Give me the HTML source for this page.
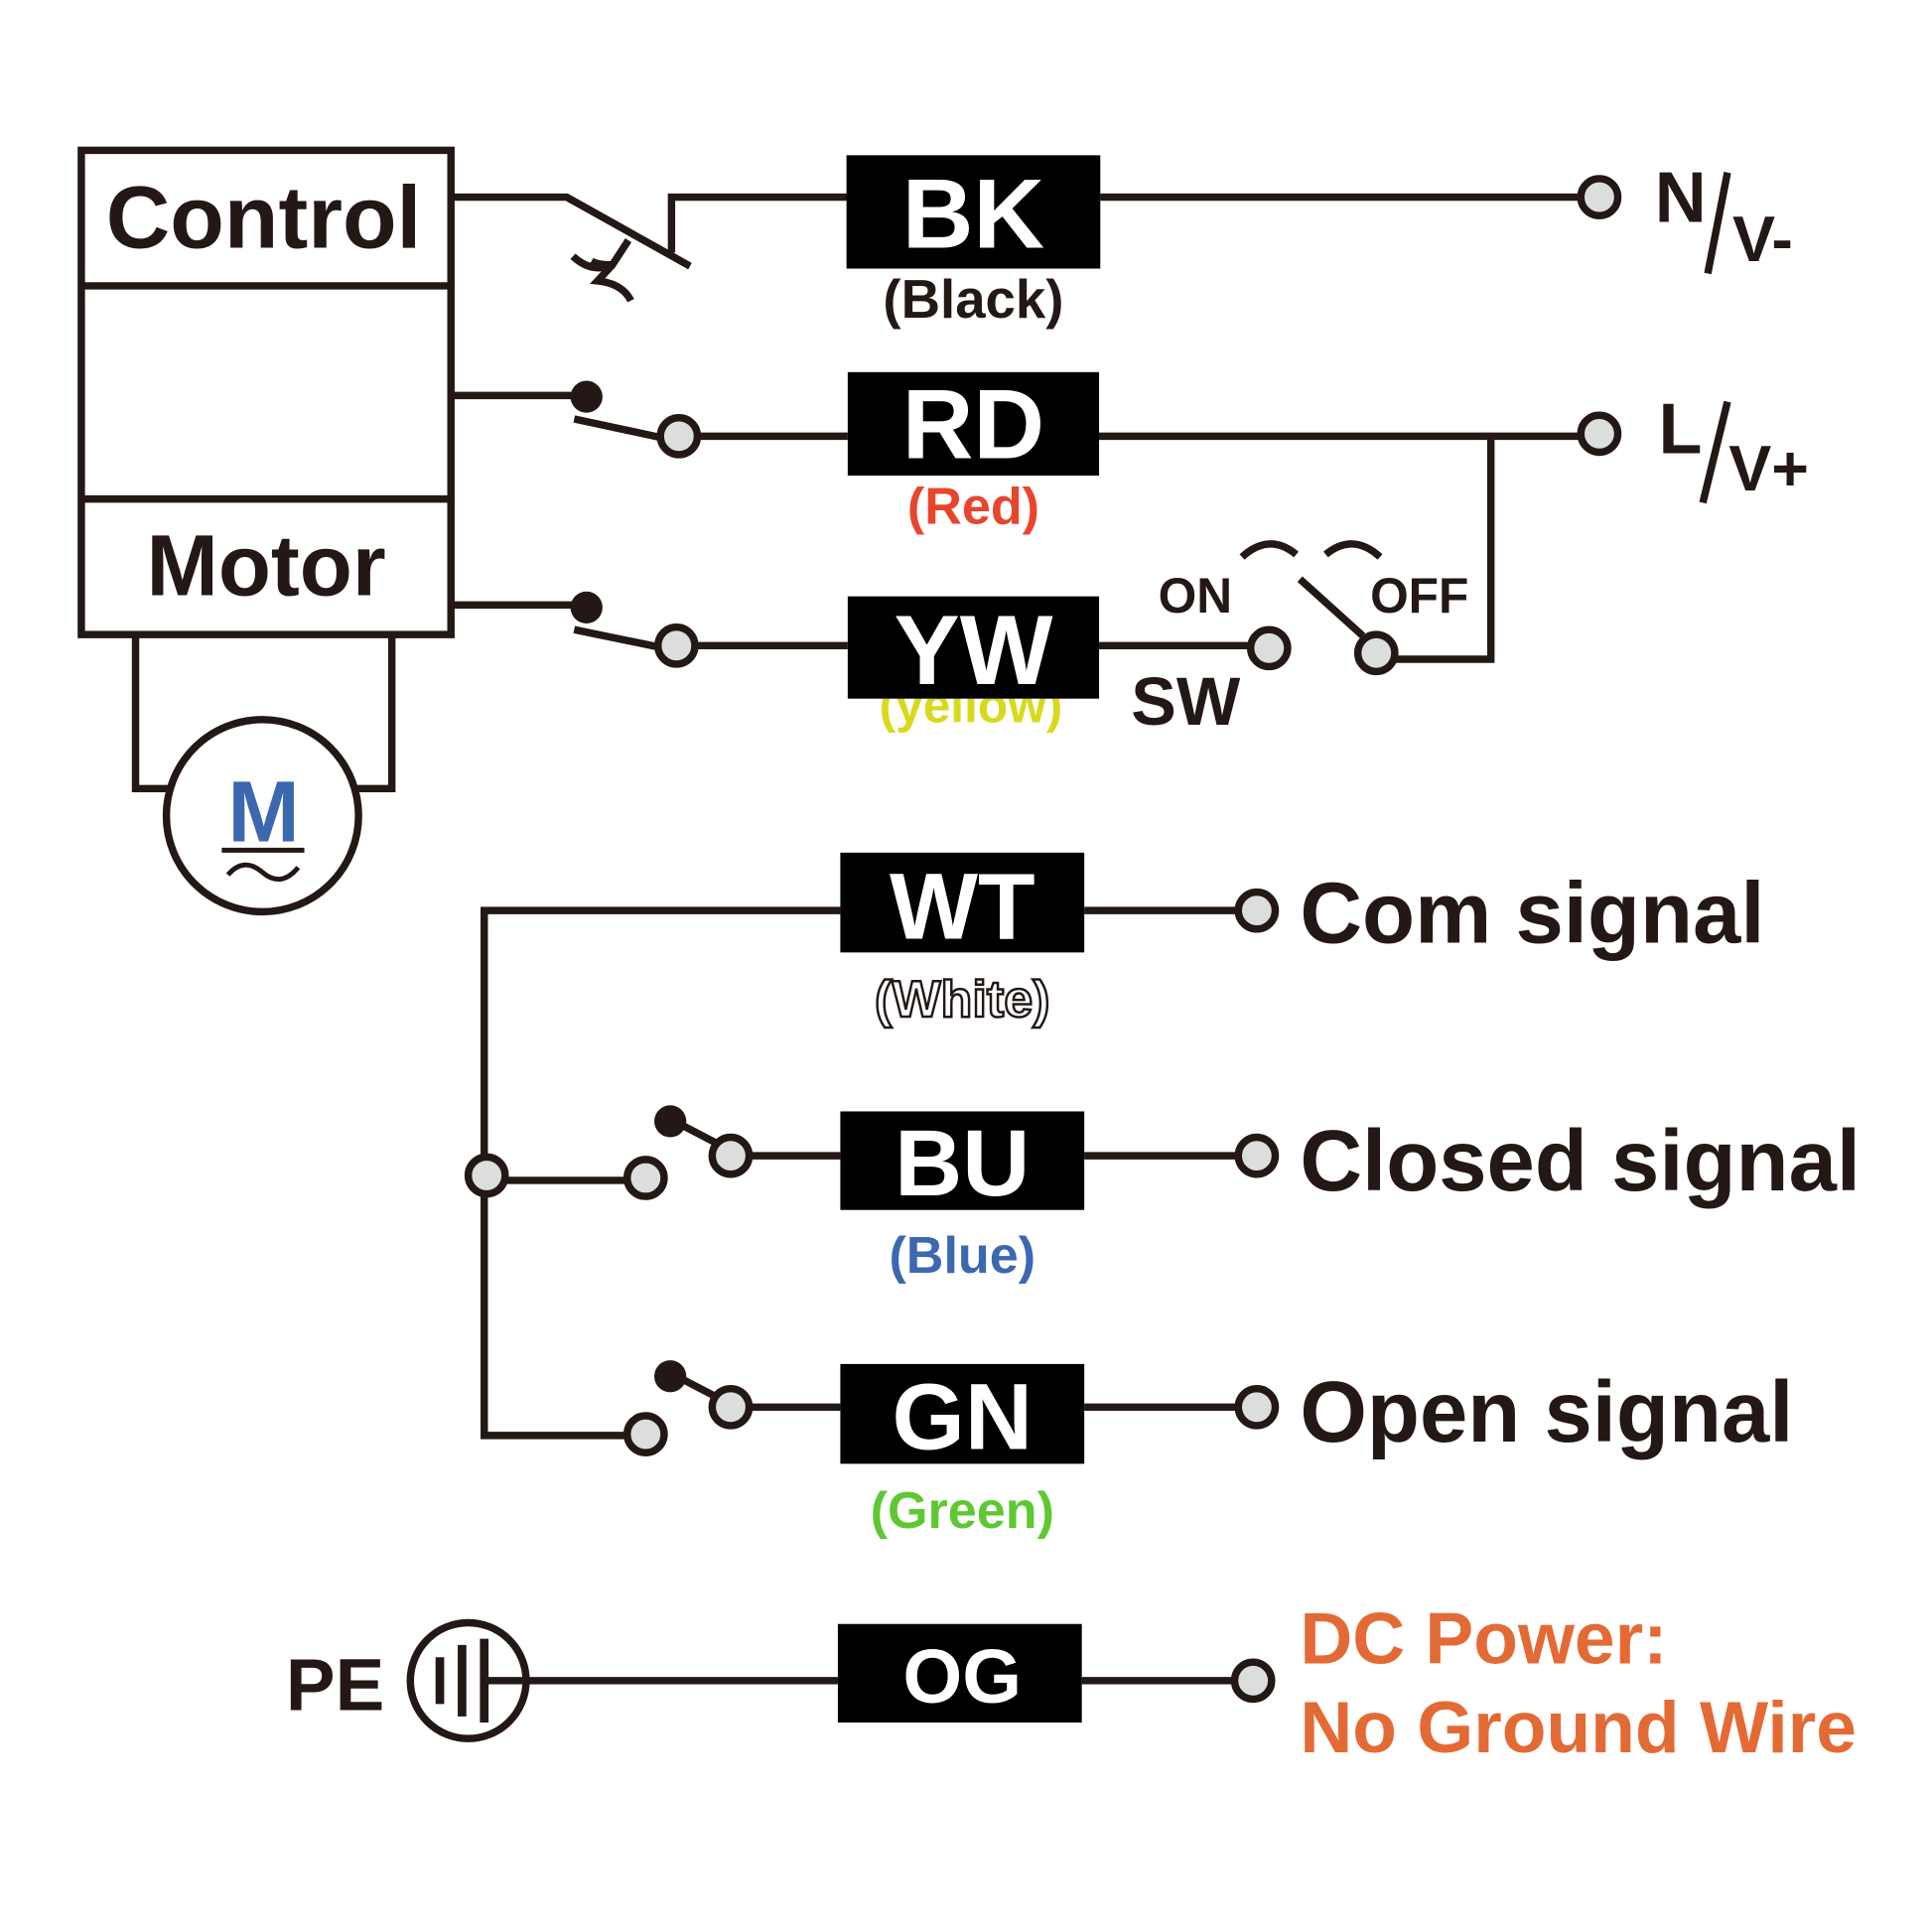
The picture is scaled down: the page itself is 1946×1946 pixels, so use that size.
<!DOCTYPE html>
<html><head><meta charset="utf-8"><style>html,body{margin:0;padding:0;background:#fff}svg{display:block}text{font-family:"Liberation Sans",Arial,sans-serif;font-weight:bold}</style></head>
<body>
<svg width="1946" height="1946" viewBox="0 0 1568 1568" xmlns="http://www.w3.org/2000/svg">
<rect width="1568" height="1568" fill="#fff"/>
<g stroke="#231815" stroke-width="6" fill="none">
<rect x="66" y="122" width="300" height="393"/>
<line x1="66" y1="232" x2="366" y2="232"/>
<line x1="66" y1="405" x2="366" y2="405"/>
<polyline points="110,515 110,640 138,640"/>
<polyline points="318,515 318,640 290,640"/>
<circle cx="213" cy="662" r="78"/>
<polyline points="366,160 460,160 560,216"/>
<polyline points="545,205 545,160 688,160"/>
<path d="M510,195 L497,215 Q485,215 480,212 M497,215 L485,228 Q505,230 512,244"/>
<path d="M465,208 Q480,222 497,215" />
<line x1="893" y1="160" x2="1284" y2="160"/>
<line x1="366" y1="321" x2="476" y2="321"/>
<line x1="466" y1="340" x2="536" y2="355"/>
<line x1="566" y1="354" x2="688" y2="354"/>
<line x1="892" y1="354" x2="1284" y2="354"/>
<polyline points="1210,354 1210,535 1132,535"/>
<line x1="366" y1="491" x2="476" y2="491"/>
<line x1="466" y1="511" x2="534" y2="525"/>
<line x1="564" y1="524" x2="688" y2="524"/>
<line x1="892" y1="524" x2="1015" y2="524"/>
<line x1="1055" y1="470" x2="1106" y2="516"/>
<path d="M1008,452 Q1030,432 1052,450"/>
<path d="M1076,450 Q1098,432 1120,452"/>
<polyline points="682,739 393,739 393,1165 510,1165"/>
<line x1="410" y1="958" x2="510" y2="958"/>
<line x1="880" y1="739" x2="1005" y2="739"/>
<line x1="555" y1="914" x2="580" y2="927"/>
<line x1="608" y1="938" x2="682" y2="938"/>
<line x1="880" y1="938" x2="1005" y2="938"/>
<line x1="555" y1="1120" x2="580" y2="1133"/>
<line x1="608" y1="1142" x2="682" y2="1142"/>
<line x1="880" y1="1142" x2="1005" y2="1142"/>
<circle cx="380" cy="1364" r="47"/>
<line x1="357" y1="1345" x2="357" y2="1383" stroke-width="7"/>
<line x1="375" y1="1335" x2="375" y2="1393" stroke-width="7"/>
<line x1="393" y1="1330" x2="393" y2="1398" stroke-width="7"/>
<line x1="393" y1="1364" x2="680" y2="1364"/>
<line x1="878" y1="1364" x2="1003" y2="1364"/>
<line x1="1402" y1="140" x2="1386" y2="222" stroke-width="6"/>
<line x1="1402" y1="326" x2="1382" y2="408" stroke-width="6"/>
</g>
<g fill="#231815"><circle cx="476" cy="322" r="13"/><circle cx="476" cy="493" r="13"/><circle cx="544" cy="910" r="13"/><circle cx="544" cy="1117" r="13"/></g>
<g fill="#dcdddd" stroke="#231815" stroke-width="6">
<circle cx="1298" cy="160" r="15"/><circle cx="551" cy="354" r="15"/><circle cx="1298" cy="352" r="15"/>
<circle cx="549" cy="524" r="15"/><circle cx="1030" cy="526" r="15"/><circle cx="1117" cy="530" r="15"/>
<circle cx="1020" cy="739" r="15"/><circle cx="395" cy="954" r="15"/><circle cx="524" cy="956" r="15"/><circle cx="593" cy="938" r="15"/><circle cx="1020" cy="938" r="15"/>
<circle cx="524" cy="1164" r="15"/><circle cx="593" cy="1142" r="15"/><circle cx="1020" cy="1142" r="15"/><circle cx="1017" cy="1364" r="15"/>
</g>
<text x="788" y="586" font-size="40" fill="#d9d91c" text-anchor="middle">(yellow)</text>
<g fill="#000">
<rect x="687" y="126" width="206" height="92"/><rect x="688" y="302" width="204" height="84"/><rect x="688" y="484" width="204" height="83"/>
<rect x="682" y="692" width="198" height="81"/><rect x="682" y="902" width="198" height="80"/><rect x="682" y="1107" width="198" height="81"/><rect x="680" y="1318" width="198" height="80"/>
</g>
<g fill="#fff" text-anchor="middle">
<text x="790" y="201" font-size="80">BK</text>
<text x="790" y="372" font-size="80">RD</text>
<text x="790" y="555" font-size="80">YW</text>
<text x="781" y="762" font-size="76">WT</text>
<text x="781" y="970" font-size="76">BU</text>
<text x="781" y="1176" font-size="76">GN</text>
<text x="781" y="1382" font-size="62">OG</text>
</g>
<g fill="#231815">
<text x="214" y="201" font-size="72" text-anchor="middle">Control</text>
<text x="216" y="483" font-size="70" text-anchor="middle">Motor</text>
<text x="790" y="258" font-size="44" text-anchor="middle">(Black)</text>
<text x="1343" y="180" font-size="58">N</text><text x="1406" y="212" font-size="52">V-</text>
<text x="1346" y="368" font-size="58">L</text><text x="1403" y="398" font-size="52">V+</text>
<text x="940" y="497" font-size="40">ON</text><text x="1112" y="497" font-size="40">OFF</text>
<text x="918" y="588" font-size="55">SW</text>
<text x="1055" y="765" font-size="70">Com signal</text>
<text x="1055" y="966" font-size="70">Closed signal</text>
<text x="1055" y="1170" font-size="70">Open signal</text>
<text x="232" y="1388" font-size="60">PE</text>
</g>
<text x="790" y="425" font-size="42" fill="#e8452c" text-anchor="middle">(Red)</text>
<text x="781" y="825" font-size="42" fill="#fff" stroke="#231815" stroke-width="2" text-anchor="middle">(White)</text>
<text x="781" y="1033" font-size="42" fill="#3c68b0" text-anchor="middle">(Blue)</text>
<text x="781" y="1240" font-size="42" fill="#5ec832" text-anchor="middle">(Green)</text>
<text x="1055" y="1350" font-size="59" fill="#e46a35">DC Power:</text>
<text x="1055" y="1422" font-size="59" fill="#e46a35">No Ground Wire</text>
<text x="214" y="683" font-size="70" fill="#3c68b0" text-anchor="middle">M</text>
<line x1="180" y1="690" x2="247" y2="690" stroke="#231815" stroke-width="4"/>
<path d="M185,710 Q198,695 213,708 Q228,721 242,704" stroke="#231815" stroke-width="4" fill="none"/>
</svg>
</body></html>
